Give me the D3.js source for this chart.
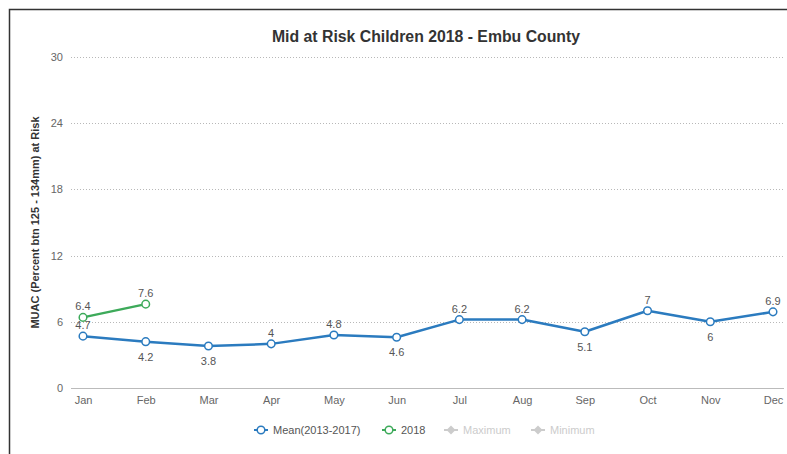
<!DOCTYPE html>
<html>
<head>
<meta charset="utf-8">
<script src="https://cdn.jsdelivr.net/npm/d3@7/dist/d3.min.js"></script>
<style>
  html, body { margin: 0; padding: 0; background: #fff; }
  svg { display: block; font-family: "Liberation Sans", Arial, Helvetica, sans-serif; }
</style>
</head>
<body>
<svg id="chart" width="787" height="454"></svg>
<script>
// Monthly MUAC mid-risk percentages
const months = ["Jan", "Feb", "Mar", "Apr", "May", "Jun", "Jul", "Aug", "Sep", "Oct", "Nov", "Dec"];
const meanValues = [4.7, 4.2, 3.8, 4, 4.8, 4.6, 6.2, 6.2, 5.1, 7, 6, 6.9];
const meanLabelBelow = [false, true, true, false, false, true, false, false, true, false, true, false];
const values2018 = [6.4, 7.6];
const yTicks = [0, 6, 12, 18, 24, 30];
const legendItems = [
  { name: "Mean(2013-2017)", color: "#2b7bbf", active: true },
  { name: "2018", color: "#3daa5a", active: true },
  { name: "Maximum", color: "#cccccc", active: false },
  { name: "Minimum", color: "#cccccc", active: false }
];

const svg = d3.select("#chart");

// outer frame (top and left edges visible)
svg.append("path")
  .attr("d", "M9.5,454 L9.5,9.5 L787,9.5")
  .attr("fill", "none").attr("stroke", "#333").attr("stroke-width", 1.5);

const plot = { left: 71, right: 785, top: 57, bottom: 388 };

const x = d3.scalePoint().domain(months).range([83, 773]);
const y = d3.scaleLinear().domain([0, 30]).range([plot.bottom, plot.top]);

// title
svg.append("text")
  .attr("x", 426).attr("y", 42)
  .attr("text-anchor", "middle")
  .attr("font-size", 15.8).attr("font-weight", "bold").attr("fill", "#333")
  .text("Mid at Risk Children 2018 - Embu County");

// horizontal gridlines
svg.append("g").selectAll("line")
  .data(yTicks.filter(t => t > 0))
  .join("line")
  .attr("x1", plot.left).attr("x2", plot.right)
  .attr("y1", d => Math.round(y(d)) + 0.5).attr("y2", d => Math.round(y(d)) + 0.5)
  .attr("stroke", "#b8b8b8").attr("stroke-width", 1).attr("stroke-dasharray", "1,2");

// y axis labels
const yAxis = d3.axisLeft(y).tickValues(yTicks).tickSize(0).tickPadding(0);
const gy = svg.append("g").attr("transform", `translate(${plot.left - 8},0)`).call(yAxis);
gy.select(".domain").remove();
gy.selectAll("text").attr("font-size", 11).attr("fill", "#666")
  .attr("font-family", "Liberation Sans, Arial, sans-serif");

// x axis
const xAxis = d3.axisBottom(x).tickSize(0).tickPadding(8);
const gx = svg.append("g").attr("transform", `translate(0,${plot.bottom + 0.5})`).call(xAxis);
gx.select(".domain").attr("d", `M${plot.left},0H${plot.right - 1}`).attr("stroke", "#bbb");
gx.selectAll("text").attr("font-size", 11).attr("fill", "#666")
  .attr("font-family", "Liberation Sans, Arial, sans-serif");

// y axis title
svg.append("text")
  .attr("transform", `translate(39,${(plot.top + plot.bottom) / 2}) rotate(-90)`)
  .attr("text-anchor", "middle")
  .attr("font-size", 11).attr("font-weight", "bold").attr("fill", "#333")
  .text("MUAC (Percent btn 125 - 134mm) at Risk");

const line = d3.line().x(d => x(d.m)).y(d => y(d.v));

function drawSeries(values, color, below) {
  const data = values.map((v, i) => ({ m: months[i], v, below: below ? below[i] : false }));
  const g = svg.append("g");
  g.append("path").datum(data)
    .attr("d", line).attr("fill", "none")
    .attr("stroke", color).attr("stroke-width", 2.5)
    .attr("stroke-linejoin", "round");
  g.selectAll("circle").data(data).join("circle")
    .attr("cx", d => x(d.m)).attr("cy", d => y(d.v)).attr("r", 3.8)
    .attr("fill", "#fff").attr("stroke", color).attr("stroke-width", 1.5);
  g.selectAll("text").data(data).join("text")
    .attr("x", d => x(d.m))
    .attr("y", d => d.below ? y(d.v) + 19 : y(d.v) - 7)
    .attr("text-anchor", "middle")
    .attr("font-size", 11).attr("fill", "#555")
    .text(d => d.v);
}

drawSeries(meanValues, legendItems[0].color, meanLabelBelow);
drawSeries(values2018, legendItems[1].color, null);

// legend
const legendX = [261, 389, 451, 538];
const lg = svg.append("g");
legendItems.forEach((it, i) => {
  const cx = legendX[i], cy = 430;
  const item = lg.append("g");
  item.append("line")
    .attr("x1", cx - 7).attr("x2", cx + 7).attr("y1", cy).attr("y2", cy)
    .attr("stroke", it.color).attr("stroke-width", 2);
  if (it.active) {
    item.append("circle").attr("cx", cx).attr("cy", cy).attr("r", 3.8)
      .attr("fill", "#fff").attr("stroke", it.color).attr("stroke-width", 1.5);
  } else {
    item.append("path")
      .attr("d", `M${cx},${cy - 4.5}L${cx + 4.5},${cy}L${cx},${cy + 4.5}L${cx - 4.5},${cy}Z`)
      .attr("fill", it.color);
  }
  item.append("text")
    .attr("x", cx + 12).attr("y", cy + 4)
    .attr("font-size", 11).attr("fill", it.active ? "#555" : "#ccc")
    .text(it.name);
});
</script>
</body>
</html>
